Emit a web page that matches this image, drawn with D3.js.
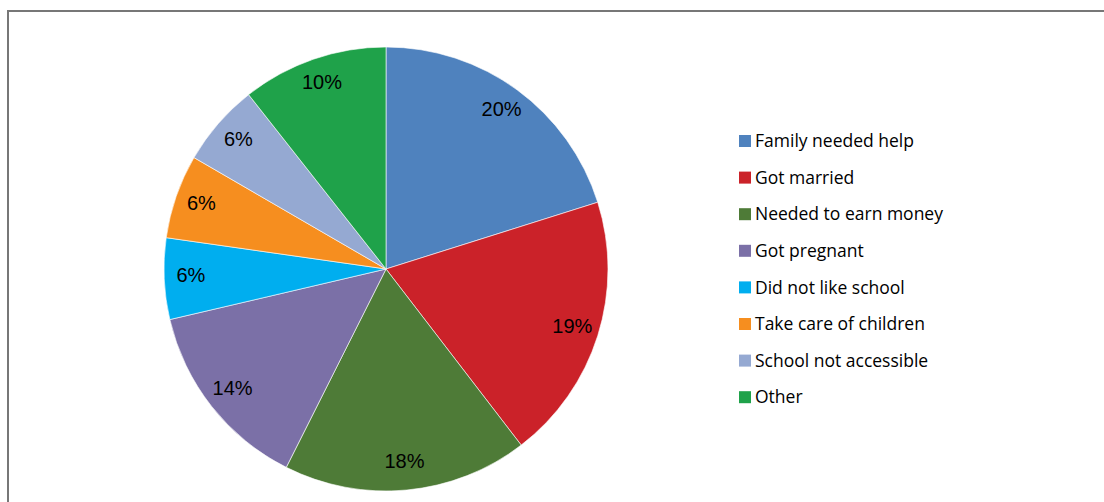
<!DOCTYPE html>
<html><head><meta charset="utf-8">
<script src="https://cdn.jsdelivr.net/npm/d3@7"></script>
<style>html,body{margin:0;padding:0;background:#fff;overflow:hidden}</style>
</head><body>
<svg id="chart" width="1104" height="502"></svg>
<script>
const categories = ["Family needed help","Got married","Needed to earn money","Got pregnant","Did not like school","Take care of children","School not accessible","Other"];
const values = [20.1, 19.4, 17.8, 13.9, 5.9, 6.1, 6.0, 10.6];
const labels = ["20%","19%","18%","14%","6%","6%","6%","10%"];
const colors = ["#4F82BE","#CB2229","#4E7B37","#7B70A7","#00AEEF","#F68E1F","#95A9D2","#1FA24A"];

const svg = d3.select("#chart");
// frame
svg.append("rect").attr("x",8).attr("y",11).attr("width",1110).attr("height",520)
  .attr("fill","none").attr("stroke","#777").attr("stroke-width",2);

const cx = 386, cy = 269, r = 222;
const g = svg.append("g").attr("transform",`translate(${cx},${cy})`);
const pie = d3.pie().sort(null).value(d=>d);
const arcs = pie(values);
const arc = d3.arc().innerRadius(0).outerRadius(r);
const labelArc = d3.arc().innerRadius(r*0.88).outerRadius(r*0.88);
const color = d3.scaleOrdinal().domain(categories).range(colors);

g.selectAll("path").data(arcs).join("path")
  .attr("d",arc).attr("fill",(d,i)=>color(categories[i]))
  .attr("stroke","#fff").attr("stroke-width",0.6);

g.selectAll("text").data(arcs).join("text")
  .attr("transform",d=>`translate(${labelArc.centroid(d)})`)
  .attr("text-anchor","middle").attr("dy","0.24em")
  .attr("font-family","Liberation Sans, Arial, sans-serif").attr("font-size",20)
  .attr("fill","#000").text((d,i)=>labels[i]);

const legend = svg.append("g").attr("transform","translate(739,141)");
const rowH = 36.6;
const items = legend.selectAll("g").data(categories).join("g")
  .attr("transform",(d,i)=>`translate(0,${i*rowH})`);
items.append("rect").attr("x",0).attr("y",-6).attr("width",12).attr("height",12)
  .attr("fill",d=>color(d));
items.append("text").attr("x",16).attr("dy","0.35em")
  .attr("font-family","'Open Sans', Lato, sans-serif").attr("font-size",17.5)
  .attr("fill","#000").text(d=>d);
</script>
</body></html>
